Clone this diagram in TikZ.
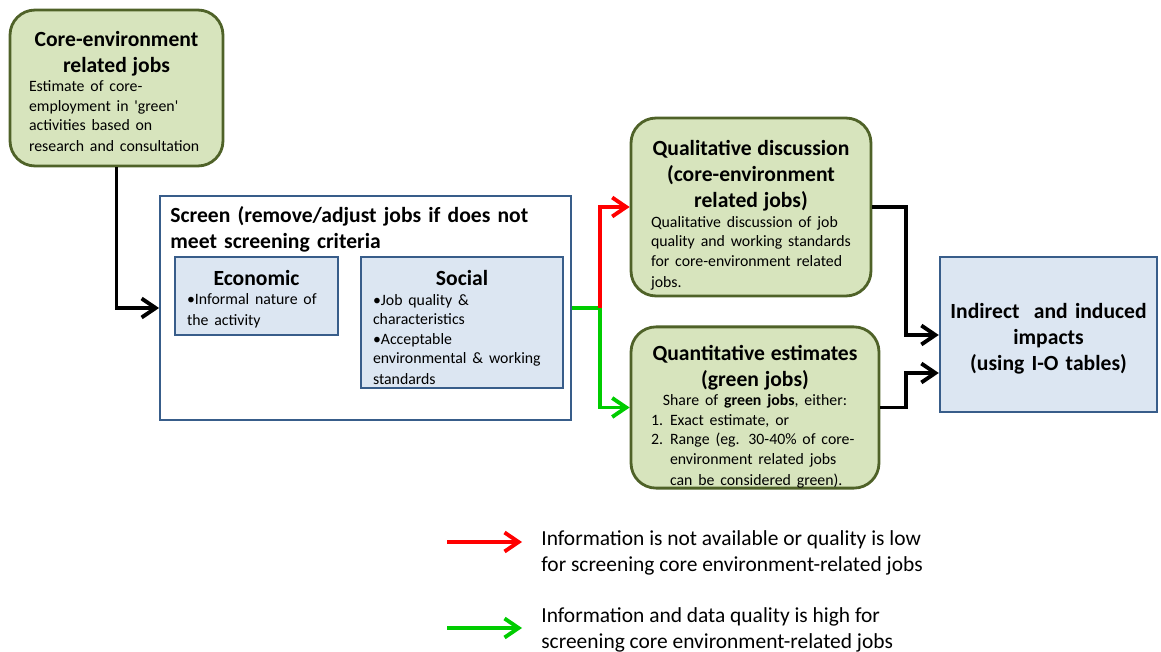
\documentclass[tikz,border=0pt]{standalone}
\usepackage{fontspec}
\setmainfont{Carlito}
\usetikzlibrary{arrows.meta}
\definecolor{oliveline}{HTML}{4F6228}
\definecolor{olivefill}{HTML}{D7E4BD}
\definecolor{steelline}{HTML}{385D8A}
\definecolor{steelfill}{HTML}{DCE6F2}
\definecolor{arrowgreen}{HTML}{00CC00}
\newcommand\hd{\fontsize{12.3}{14.8}\selectfont\bfseries}
\newcommand\bd{\fontsize{9}{11.1}\selectfont}
\newcommand\legtext{\fontsize{12.2}{14.8}\selectfont}
\newcommand\numitem[1]{\makebox[0.38cm][l]{#1}}
\newcommand\lift[1]{\rule{0pt}{#1}}
\tikzset{
	greenbox/.style={draw=oliveline, fill=olivefill, line width=1.6pt, rounded corners=0.5cm, inner sep=0pt, align=left},
	bluebox/.style={draw=steelline, fill=steelfill, line width=1.4pt, inner sep=0pt, align=left},
	flow/.style={-{Straight Barb[length=2.8mm,width=3.8mm]}, line width=2.2pt},
}
\begin{document}
\begin{tikzpicture}[x=0.02cm, y=-0.02cm, line join=miter]
			\useasboundingbox (0,0) rectangle (1161,652);
			% left column
			\node[greenbox, minimum width=4.26cm, minimum height=3.12cm, text width=3.5cm] (core) at (116.5,88)
				{{\centering\hd\lift{12.4pt}Core-environment\\ related jobs\par}\bd Estimate of core-\\ employment in \textquotesingle green\textquotesingle\\ activities based on\\ research and consultation};
			\node[draw=steelline, line width=1.1pt, fill=white, minimum width=8.22cm, minimum height=4.48cm] (screen) at (365.5,308) {};
			\node[anchor=north west, inner sep=0pt, text width=7.9cm, align=left, font=\hd] (screentitle) at (170,206) {Screen (remove/adjust jobs if does not\\ meet screening criteria};
			\node[bluebox, minimum width=3.26cm, minimum height=1.56cm, text width=2.78cm] (econ) at (256.5,296)
				{{\centering\hd\lift{12.4pt}Economic\par}\bd\textbullet Informal nature of\\ the activity};
			\node[bluebox, minimum width=4.04cm, minimum height=2.62cm, text width=3.56cm] (social) at (462,322.5)
				{{\centering\hd\lift{14.7pt}Social\par}\bd\textbullet Job quality \&\\ characteristics\\ \textbullet Acceptable\\ environmental \& working\\ standards};
			% right column
			\node[greenbox, minimum width=4.8cm, minimum height=3.56cm, text width=4cm] (qual) at (751,207)
				{{\centering\hd\lift{18pt}Qualitative discussion\\ (core-environment\\ related jobs)\par}\bd Qualitative discussion of job\\ quality and working standards\\ for core-environment related\\ jobs.};
			\node[greenbox, minimum width=4.96cm, minimum height=3.22cm, text width=4.16cm] (quant) at (755,407.5)
				{{\centering\hd\lift{19pt}Quantitative estimates\\ (green jobs)\par}{\centering\bd Share of \textbf{green jobs}, either:\par}\bd\numitem{1.}Exact estimate, or\\ \numitem{2.}Range (eg. 30-40\% of core-\\ \hspace*{0.38cm}environment related jobs\\ \hspace*{0.38cm}can be considered green).};
			\node[bluebox, minimum width=4.34cm, minimum height=3.1cm, text width=4.1cm, align=center, font=\hd] (indirect) at (1048.5,334.5) {\lift{13.6pt}Indirect~ and induced\\ impacts\\ (using I-O tables)};
			% connectors
			\coordinate (split) at (600,308);
			\coordinate (m1) at (906,335); \coordinate (m2) at (906,373);
			\draw[flow] (core.south) |- (screen.west);
			\draw[flow, arrowgreen] (screen.east) -- (split) |- (quant.west);
			\draw[flow, red] (split) |- (qual.west);
			\draw[flow] (qual.east) -| (m1) -- (m1 -| indirect.west);
			\draw[flow] (quant.east) -| (m2) -- (m2 -| indirect.west);
			% legend
			\coordinate (r0) at (447,542); \coordinate (r1) at (522,542);
			\coordinate (g0) at (447,628); \coordinate (g1) at (522,628);
			\draw[flow, red] (r0) -- (r1);
			\draw[flow, arrowgreen] (g0) -- (g1);
			\node[anchor=west, inner sep=0pt, align=left, font=\legtext] (redtext) at (541,553) {Information is not available or quality is low\\ for screening core environment-related jobs};
			\node[anchor=west, inner sep=0pt, align=left, font=\legtext] (greentext) at (541,630) {Information and data quality is high for\\ screening core environment-related jobs};
		\end{tikzpicture}
\end{document}
